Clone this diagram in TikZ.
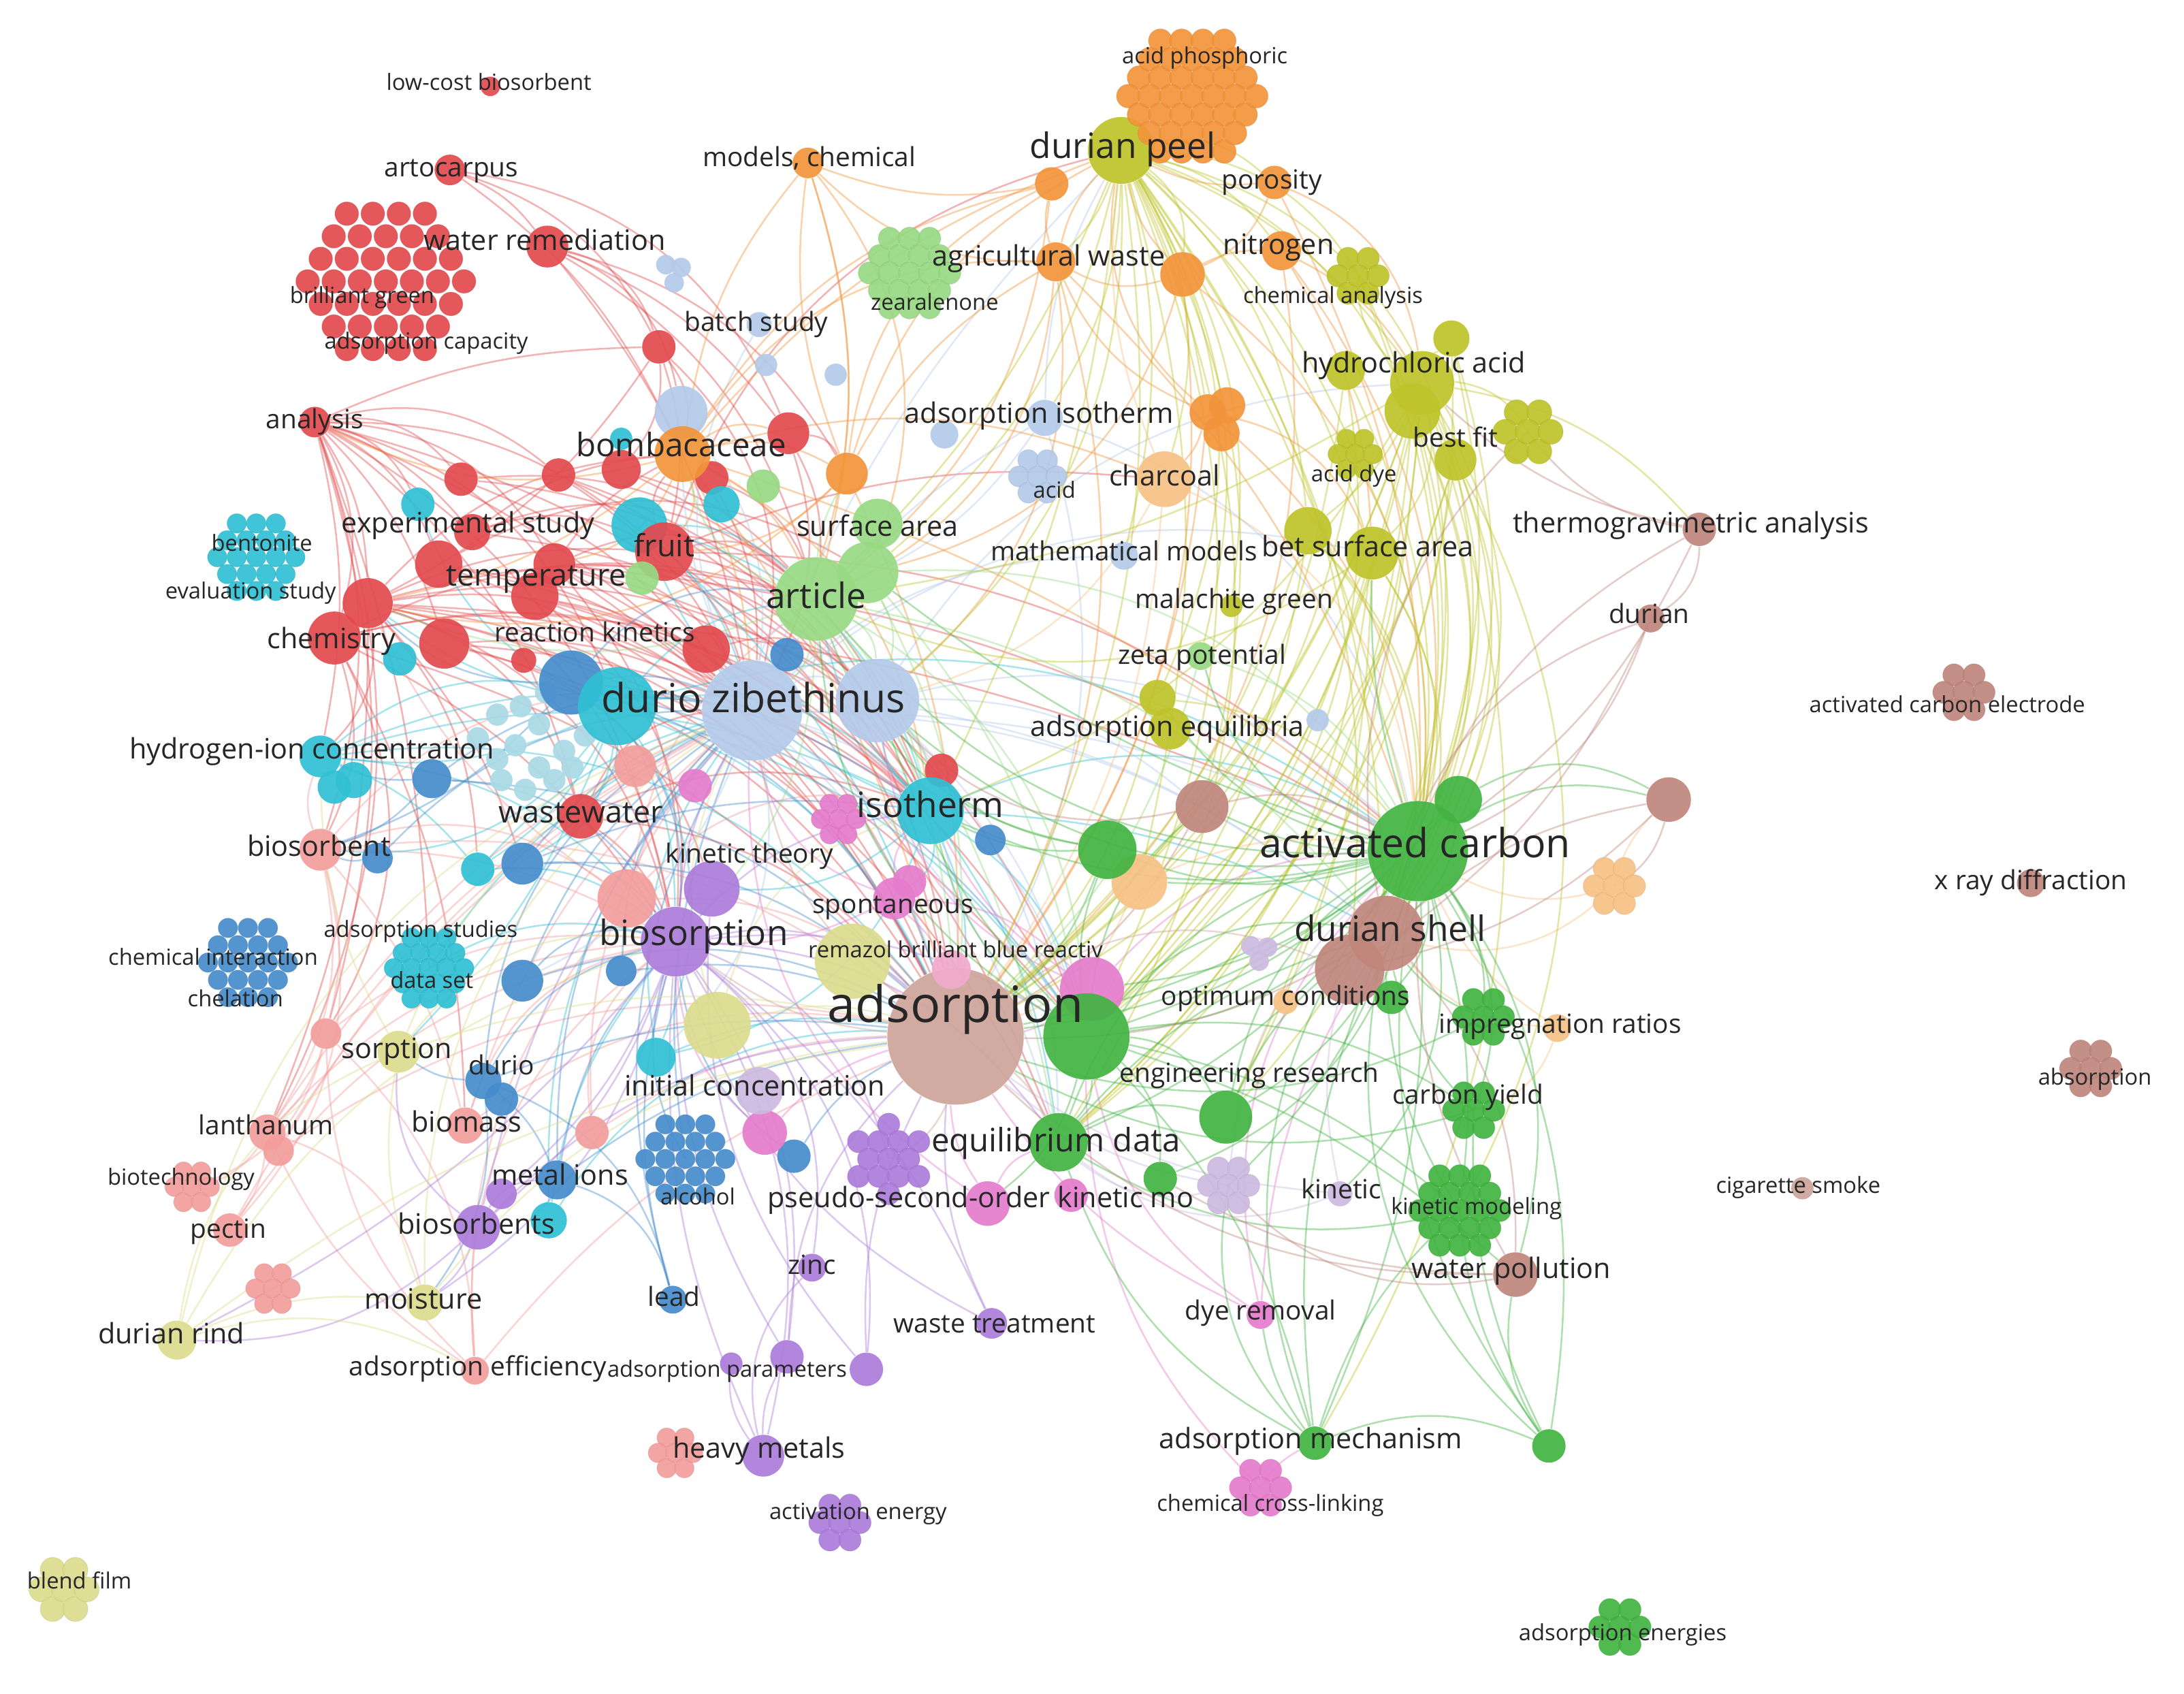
\documentclass[tikz,border=0pt]{standalone}
\usepackage{fontspec}
\setmainfont{Open Sans}
\pgfdeclarelayer{bg}
\pgfsetlayers{bg,main}
\definecolor{cR}{RGB}{226,74,78}
\definecolor{cRl}{RGB}{243,158,156}
\definecolor{cG}{RGB}{66,180,66}
\definecolor{cGl}{RGB}{152,218,132}
\definecolor{cB}{RGB}{70,140,205}
\definecolor{cBl}{RGB}{180,202,234}
\definecolor{cC}{RGB}{48,192,212}
\definecolor{cCl}{RGB}{170,218,230}
\definecolor{cY}{RGB}{190,196,42}
\definecolor{cYl}{RGB}{220,220,142}
\definecolor{cO}{RGB}{242,148,58}
\definecolor{cOl}{RGB}{247,194,134}
\definecolor{cP}{RGB}{172,124,218}
\definecolor{cPl}{RGB}{204,186,224}
\definecolor{cK}{RGB}{230,124,204}
\definecolor{cKl}{RGB}{240,170,205}
\definecolor{cN}{RGB}{192,134,124}
\definecolor{cNl}{RGB}{206,164,154}
\definecolor{txt}{RGB}{38,38,38}
\tikzset{
  kwn/.style={circle, inner sep=0pt, draw=none, fill opacity=0.92},
  e/.style={line width=0.7pt, draw opacity=0.42},
  lab/.style={text=txt, inner sep=0pt, anchor=mid},
  fXL/.style={lab, font=\fontsize{20.5pt}{24pt}\selectfont},
  fLa/.style={lab, font=\fontsize{16.4pt}{19pt}\selectfont},
  fLb/.style={lab, font=\fontsize{14.3pt}{17pt}\selectfont},
  fLc/.style={lab, font=\fontsize{13.2pt}{16pt}\selectfont},
  fMp/.style={lab, font=\fontsize{12.5pt}{15pt}\selectfont},
  fM/.style={lab, font=\fontsize{11.5pt}{14pt}\selectfont},
  fMs/.style={lab, font=\fontsize{10.8pt}{13pt}\selectfont},
  fS/.style={lab, font=\fontsize{9.1pt}{11pt}\selectfont},
}
\newcommand\kwnode[5]{\node[kwn, fill=#5, minimum size={#4*0.04cm}] (#1) at (#2,#3) {};}
\newcommand\kwblob[7][1.8]{%
  \coordinate (#2) at (#3,#4);
  \pgfmathsetmacro\blim{((#5-0.6*#6)/#6)^2}%
  \foreach \ii in {-5,...,5}{\foreach \jj in {-5,...,5}{%
    \pgfmathsetmacro\ux{(\ii+0.5*mod(abs(\jj),2))*#1}%
    \pgfmathsetmacro\uy{\jj*#1*0.866}%
    \pgfmathsetmacro\bok{(\ux*\ux+\uy*\uy <= \blim) ? 1 : 0}%
    \ifdim\bok pt>0.5pt
      \pgfmathsetmacro\cx{#3+\ux*#6}%
      \pgfmathsetmacro\cy{#4+\uy*#6}%
      \filldraw[fill=#7, draw=#7!80!black, draw opacity=0.25, line width=0.3pt, fill opacity=0.92] (\cx,\cy) circle (#6);
    \fi}}}
\newcommand\kwfan[3]{\foreach \tg [count=\kk] in {#3}{%
  \pgfmathsetmacro\bb{8+mod(\kk*7,22)}%
  \draw[e,#1] (#2) to[bend left=\bb] (\tg);}}
\begin{document}
\begin{tikzpicture}[x=0.02cm,y=-0.02cm]
\useasboundingbox (0,0) rectangle (1568,1216);
% ---------- big nodes first
\kwnode{adsb}{686}{744}{49}{cNl}
\kwnode{dz1}{540}{510}{36}{cBl}
\kwnode{dz2}{630}{503}{30}{cBl}
% ---------- red
\kwnode{lcb}{352}{62}{7}{cR}
\kwnode{arto}{323}{122}{11}{cR}
\kwnode{wrem}{393}{177}{15}{cR}
\kwnode{ana}{226}{303}{11}{cR}
\kwblob[2.2]{redb}{277}{202}{64}{8.5}{cR}
\kwnode{r1}{473}{249}{12}{cR}
\kwnode{r2}{566}{311}{15}{cR}
\kwnode{r3}{331}{344}{12}{cR}
\kwnode{r4}{401}{341}{12}{cR}
\kwnode{r5}{446}{337}{14}{cR}
\kwnode{r6}{511}{343}{12}{cR}
% ---------- cyan
\kwblob[2.0]{bent}{184}{400}{33}{7}{cC}
\kwnode{c1}{300}{362}{12}{cC}
\kwnode{c2}{459}{377}{20}{cC}
\kwnode{c3}{518}{362}{13}{cC}
\kwnode{c4}{446}{315}{8}{cC}
\kwnode{hic1}{230}{543}{15}{cC}
\kwnode{hic2}{254}{560}{13}{cC}
\kwnode{hic3}{240}{565}{12}{cC}
\kwnode{c8}{287}{473}{12}{cC}
\kwnode{c5}{343}{624}{12}{cC}
\kwblob{adst}{308}{695}{32}{7}{cC}
\kwnode{c6}{471}{759}{14}{cC}
\kwnode{c7}{394}{876}{13}{cC}
% ---------- light cyan
\kwnode{lc1}{357}{513}{8}{cCl}
\kwnode{lc2}{374}{507}{8}{cCl}
\kwnode{lc3}{387}{520}{8}{cCl}
\kwnode{lc4}{370}{535}{8}{cCl}
\kwnode{lc5}{387}{551}{8}{cCl}
\kwnode{lc6}{405}{539}{8}{cCl}
\kwnode{lc7}{360}{560}{8}{cCl}
\kwnode{lc8}{377}{567}{8}{cCl}
\kwnode{lc9}{398}{560}{8}{cCl}
\kwnode{lc10}{411}{551}{8}{cCl}
\kwnode{lc11}{357}{545}{8}{cCl}
\kwnode{lc12}{392}{497}{8}{cCl}
\kwnode{lc13}{343}{530}{8}{cCl}
\kwnode{lc14}{420}{528}{8}{cCl}
% ---------- red (cont.)
\kwnode{r7}{339}{382}{13}{cR}
\kwnode{r8}{315}{405}{17}{cR}
\kwnode{temp}{398}{405}{15}{cR}
\kwnode{r9}{384}{428}{17}{cR}
\kwnode{fruit}{477}{396}{21}{cR}
\kwnode{chem1}{264}{433}{18}{cR}
\kwnode{chem2}{240}{458}{19}{cR}
\kwnode{r10}{319}{462}{18}{cR}
\kwnode{r11}{507}{466}{17}{cR}
\kwnode{ww}{417}{586}{16}{cR}
\kwnode{r12}{676}{553}{12}{cR}
\kwnode{r13}{376}{474}{9}{cR}
% ---------- salmon
\kwnode{bsorb}{230}{610}{15}{cRl}
\kwnode{s1}{234}{742}{11}{cRl}
\kwnode{lanth}{192}{813}{13}{cRl}
\kwnode{lanth2}{200}{826}{11}{cRl}
\kwnode{pectin}{165}{883}{12}{cRl}
\kwnode{adseff}{341}{984}{10}{cRl}
\kwnode{sbig}{450}{645}{21}{cRl}
\kwnode{s3}{456}{550}{15}{cRl}
\kwnode{biomass}{334}{808}{13}{cRl}
\kwnode{s4}{425}{813}{12}{cRl}
\kwblob{biotech}{138}{852}{18}{7}{cRl}
\kwblob{sbl}{196}{925}{20}{7}{cRl}
\kwblob{hmb}{485}{1043}{22}{7}{cRl}
% ---------- blue
\kwblob[2.05]{chint}{178}{691}{38}{7}{cB}
\kwnode{b1}{310}{559}{14}{cB}
\kwnode{b2}{271}{616}{11}{cB}
\kwnode{b3}{375}{620}{15}{cB}
\kwnode{b4}{375}{704}{15}{cB}
\kwnode{b5}{446}{697}{11}{cB}
\kwnode{durio1}{347}{776}{13}{cB}
\kwnode{durio2}{360}{789}{12}{cB}
\kwblob[2.05]{alc}{492}{832}{40}{7}{cB}
\kwnode{mi}{400}{847}{14}{cB}
\kwnode{lead}{483}{933}{10}{cB}
\kwnode{b6}{565}{470}{12}{cB}
\kwnode{b7}{711}{603}{11}{cB}
\kwnode{b8}{570}{830}{12}{cB}
\kwnode{dzb}{410}{490}{23}{cB}
\kwnode{dzc}{443}{507}{28}{cC}
\kwnode{iso}{668}{582}{24}{cC}
% ---------- light blue
\kwnode{lb1}{489}{296}{19}{cBl}
\kwnode{lb2a}{478}{190}{7}{cBl}
\kwnode{lb2b}{489}{192}{7}{cBl}
\kwnode{lb2c}{484}{203}{7}{cBl}
\kwnode{lb3}{545}{233}{9}{cBl}
\kwnode{lb4}{550}{262}{8}{cBl}
\kwnode{lb5}{600}{269}{8}{cBl}
\kwblob{acidb}{745}{342}{26}{7.5}{cBl}
\kwnode{adiso}{750}{300}{13}{cBl}
\kwnode{lb6}{678}{312}{10}{cBl}
\kwnode{mm}{807}{399}{10}{cBl}
\kwnode{lb7}{946}{517}{8}{cBl}
% ---------- olive
\kwnode{dp}{805}{108}{24}{cY}
\kwblob{chan}{975}{198}{22}{8}{cY}
\kwnode{hcl2}{1042}{243}{13}{cY}
\kwnode{hcl3}{966}{266}{14}{cY}
\kwnode{hcl1}{1021}{275}{23}{cY}
\kwnode{hcl4}{1014}{295}{20}{cY}
\kwnode{bf1}{1045}{330}{15}{cY}
\kwblob{bfb}{1097}{310}{30}{9}{cY}
\kwblob{acdye}{973}{326}{19}{7}{cY}
\kwnode{y1}{939}{381}{17}{cY}
\kwnode{bet}{985}{397}{19}{cY}
\kwnode{mg}{884}{435}{8}{cY}
\kwnode{adeq1}{831}{501}{13}{cY}
\kwnode{adeq2}{840}{523}{15}{cY}
% ---------- pale yellow
\kwnode{sorp}{286}{755}{15}{cYl}
\kwnode{moist}{305}{935}{13}{cYl}
\kwnode{drind}{127}{962}{14}{cYl}
\kwblob{blend}{46}{1141}{26}{9}{cYl}
\kwnode{py1}{515}{736}{24}{cYl}
\kwnode{py2}{612}{690}{27}{cYl}
% ---------- orange
\kwblob{aphos}{856}{69}{53}{8.5}{cO}
\kwnode{mc}{580}{117}{11}{cO}
\kwnode{o1}{755}{132}{12}{cO}
\kwnode{agw}{758}{188}{14}{cO}
\kwnode{o2}{849}{197}{16}{cO}
\kwnode{nitro}{920}{180}{14}{cO}
\kwnode{poros}{915}{131}{12}{cO}
\kwnode{o3a}{867}{296}{13}{cO}
\kwnode{o3b}{881}{291}{13}{cO}
\kwnode{o3c}{877}{311}{13}{cO}
\kwnode{bomb}{490}{326}{20}{cO}
\kwnode{o4}{608}{340}{15}{cO}
% ---------- light orange
\kwnode{charc}{836}{344}{20}{cOl}
\kwnode{lo1}{818}{633}{20}{cOl}
\kwblob{lob}{1159}{636}{24}{8}{cOl}
\kwnode{impr}{1118}{738}{10}{cOl}
\kwnode{optc}{923}{719}{9}{cOl}
% ---------- light green
\kwblob{zear}{653}{196}{35}{8}{cGl}
\kwnode{art3}{630}{376}{18}{cGl}
\kwnode{art2}{623}{411}{22}{cGl}
\kwnode{art1}{586}{430}{30}{cGl}
\kwnode{g1}{548}{349}{12}{cGl}
\kwnode{g2}{461}{415}{12}{cGl}
\kwnode{zeta}{862}{471}{10}{cGl}
% ---------- brown
\kwnode{ds2}{969}{696}{25}{cN}
\kwnode{ds1}{995}{670}{27}{cN}
\kwnode{n1}{863}{579}{19}{cN}
\kwnode{n2}{1198}{574}{16}{cN}
\kwnode{thermo}{1220}{380}{12}{cN}
\kwnode{durian}{1185}{444}{10}{cN}
\kwblob{ace}{1410}{497}{26}{8}{cN}
\kwnode{xrd}{1458}{634}{10}{cN}
\kwblob{absb}{1501}{767}{26}{8}{cN}
\kwnode{cig}{1294}{853}{8}{cNl}
\kwnode{wp}{1088}{915}{16}{cN}
% ---------- pink
\kwblob{pkb}{602}{588}{23}{7}{cK}
\kwnode{spont}{642}{645}{15}{cK}
\kwnode{pk1}{653}{633}{12}{cK}
\kwnode{pk2}{499}{564}{12}{cK}
\kwnode{pk3}{549}{813}{16}{cK}
\kwnode{pk4}{784}{710}{23}{cK}
\kwnode{pk5}{709}{864}{16}{cK}
\kwnode{pk6}{769}{858}{12}{cK}
\kwnode{dyer}{905}{944}{10}{cK}
\kwblob{ccl}{905}{1068}{23}{8}{cK}
\kwnode{pk8}{683}{696}{14}{cKl}
% ---------- green
\kwnode{ac2}{1047}{574}{17}{cG}
\kwnode{ac1}{1018}{611}{36}{cG}
\kwnode{gads}{780}{744}{31}{cG}
\kwnode{g4}{795}{610}{21}{cG}
\kwnode{eqd}{760}{820}{21}{cG}
\kwnode{g5}{880}{802}{19}{cG}
\kwnode{g6}{833}{846}{12}{cG}
\kwnode{g8}{999}{716}{12}{cG}
\kwblob{imprb}{1065}{730}{26}{8}{cG}
\kwblob{cyb}{1058}{797}{23}{8}{cG}
\kwblob{kmb}{1048}{869}{34}{8}{cG}
\kwnode{am}{944}{1036}{12}{cG}
\kwnode{g7}{1112}{1038}{12}{cG}
\kwblob{aeb}{1163}{1168}{23}{8}{cG}
% ---------- purple
\kwnode{bios2}{511}{638}{20}{cP}
\kwnode{bios1}{485}{676}{25}{cP}
\kwnode{bsents}{343}{881}{16}{cP}
\kwnode{pu1}{360}{857}{11}{cP}
\kwblob{pub}{638}{832}{33}{8}{cP}
\kwnode{zinc}{583}{910}{10}{cP}
\kwnode{wt}{712}{950}{11}{cP}
\kwblob{apb}{525}{979}{18}{8}{cP}
\kwnode{ap2}{565}{974}{12}{cP}
\kwnode{ap3}{622}{983}{12}{cP}
\kwnode{hm}{548}{1045}{15}{cP}
\kwblob{aeng}{603}{1093}{26}{8}{cP}
% ---------- light purple
\kwblob{lpb}{882}{851}{29}{8}{cPl}
\kwnode{kin}{962}{857}{9}{cPl}
\kwnode{lp1a}{898}{679}{7}{cPl}
\kwnode{lp1b}{910}{680}{7}{cPl}
\kwnode{lp1c}{904}{690}{7}{cPl}
\kwnode{lp2}{545}{783}{17}{cPl}
% ================= edges
\begin{pgfonlayer}{bg}
\fill[white] (0,0) rectangle (1568,1216);
\kwfan{cR}{ana}{chem1,chem2,r3,r7,r8,temp,r10,fruit,r4,hic1,ww,dzc,r1,bsorb,c1,dz1,iso,bios1,adst,s1,lanth}
\kwfan{cR}{arto}{wrem,r1,r2,bomb}
\kwfan{cR}{wrem}{r2,o4,r1,dz1,art1,lb1}
\kwfan{cR}{r1}{fruit,bomb,dz1,chem1,r5}
\kwfan{cR}{chem1}{iso,dz1,bios1,art1,bomb,adsb,fruit,dz2,ww,b3,c5,hic1,lanth,gads,eqd,ac1}
\kwfan{cR}{chem2}{adsb,dz1,iso,bios1,bsorb,s1,biomass,art1}
\kwfan{cR}{temp}{iso,dz2,art1,adsb,bios1,dz1,bomb,eqd,gads,ac1}
\kwfan{cR}{fruit}{dz1,dz2,art1,iso,adsb,bomb,charc,ac1,dp}
\kwfan{cR}{r8}{dz1,bios1,art2,iso,adsb}
\kwfan{cR}{r10}{dz1,adsb,bios2,iso}
\kwfan{cR}{r7}{bomb,fruit,art1,dz2}
\kwfan{cR}{r11}{adsb,iso,dz2,gads}
\kwfan{cR}{ww}{bios1,adsb,dz1,s3,iso}
\kwfan{cR}{r2}{art1,dz1,o4}
\kwfan{cR}{r3}{dz1,art1,iso}
\kwfan{cR}{r4}{dz1,iso,adsb}
\kwfan{cR}{r5}{art1,iso}
\kwfan{cR}{r9}{dz1,adsb,bios1,iso}
\kwfan{cR}{r6}{dz1,art1}
\kwfan{cRl}{bsorb}{s1,lanth,dz1,bios1,adsb,pectin,biomass,hic1,sbig}
\kwfan{cRl}{s1}{lanth,adseff,biotech,dz1,bios1}
\kwfan{cRl}{lanth}{pectin,biotech,moist,dz1,bios1}
\kwfan{cRl}{lanth2}{dz1,adsb}
\kwfan{cRl}{pectin}{dz1,bios1}
\kwfan{cRl}{adseff}{lanth,s1,bios1,adsb,sbig}
\kwfan{cRl}{biomass}{dz1,adsb,bios1}
\kwfan{cRl}{s4}{adsb,dz1,bios1}
\kwfan{cRl}{sbig}{dz1,adsb,iso,chem1,art1}
\kwfan{cC}{dzc}{hic1,c1,bsorb,c5,adsb,iso,bios1,art1,c6,chem1,ww,b3,sorp,gads,ac1}
\kwfan{cC}{hic1}{dz1,bios1,adsb,c5,iso,dzc}
\kwfan{cC}{iso}{art1,c2,spont,adsb,bios2,c6,eqd,gads,ac1,ds1,dz2}
\kwfan{cC}{c2}{dz1,art1,iso,adsb}
\kwfan{cC}{c7}{bios1,dz1,adsb}
\kwfan{cC}{c6}{adsb,dz1}
\kwfan{cC}{c5}{dz1,bios1}
\kwfan{cC}{adst}{dz1,bios1}
\kwfan{cB}{b1}{bsorb,dz1,bios1,hic1,adsb}
\kwfan{cB}{b3}{dz1,adsb,bios1,iso}
\kwfan{cB}{b4}{dz1,adsb,bios1}
\kwfan{cB}{durio1}{sorp,bios1,dz1,mi,moist,lead,adsb}
\kwfan{cB}{mi}{bios1,dz1,lead,adsb}
\kwfan{cB}{lead}{bios1,dz1}
\kwfan{cB}{b5}{adsb,dz1}
\kwfan{cB}{b8}{adsb,bios1}
\kwfan{cB}{b2}{bsorb,dz1}
\kwfan{cB}{alc}{dz1,bios1}
\kwfan{cB}{dzb}{dz1,adsb,art1,iso,chem1,bios1,bsorb,gads}
\kwfan{cBl}{dz1}{adsb,art1,dz2,iso,b4,c6,adiso,mm,lb3,lb1,eqd,gads,ac1,ds1,bet,dp}
\kwfan{cBl}{dz2}{adsb,iso,art1,gads,eqd,ac1,ds1,n1,hcl1}
\kwfan{cBl}{lb1}{bomb,dz1}
\kwfan{cBl}{adiso}{art1,adsb,ac1,dp}
\kwfan{cP}{bios1}{bsents,hm,zinc,wt,ap2,ap3,pu1,moist,adsb,dz1,iso,pub,drind,gads,eqd}
\kwfan{cP}{bsents}{moist,drind,mi,dz1,adsb,sorp}
\kwfan{cP}{hm}{ap2,apb,zinc,bios1}
\kwfan{cP}{ap2}{bios1,adsb}
\kwfan{cP}{ap3}{adsb,bios2}
\kwfan{cP}{wt}{adsb,bios1}
\kwfan{cYl}{drind}{moist,adseff,sorp,adsb,bios1,dz1}
\kwfan{cYl}{moist}{sorp,adsb,dz1}
\kwfan{cYl}{sorp}{adsb,dz1,bios1,hic1}
\kwfan{cYl}{py1}{adsb,dz1,iso}
\kwfan{cK}{spont}{adsb,iso,dz1,bios1,pk4}
\kwfan{cK}{pk4}{adsb,ac1,dz2,iso}
\kwfan{cK}{pk5}{adsb,eqd,dz1}
\kwfan{cK}{dyer}{adsb,gads,ac1,ds1}
\kwfan{cK}{pk3}{adsb,bios1}
\kwfan{cK}{ccl}{am,gads}
\kwfan{cPl}{lpb}{adsb,ac1,eqd}
\kwfan{cPl}{kin}{adsb,ac1,eqd}
\kwfan{cO}{bomb}{mc,o1,agw,dp,o4,fruit,chem1,ana,temp,dz1,art1,iso,adsb,charc,r2,ac1}
\kwfan{cO}{o4}{agw,dp,o1,mc,fruit,chem1,adsb}
\kwfan{cO}{agw}{o1,mc,art1,dp,adsb,dz2,ac1}
\kwfan{cO}{o1}{mc,art1}
\kwfan{cO}{o2}{dp,agw,art2,nitro,adsb,ac1}
\kwfan{cO}{nitro}{hcl1,ac1,adsb,bet}
\kwfan{cO}{poros}{dp,o2,hcl1,ac1}
\kwfan{cO}{mc}{art1,dz1,art2}
\kwfan{cO}{o3a}{adsb,ac1,dp,charc,agw,bet}
\kwfan{cOl}{charc}{adsb,dz2,ac1,dp}
\kwfan{cOl}{lo1}{ac1,adsb}
\kwfan{cOl}{lob}{n2,ac1,ds1}
\kwfan{cOl}{impr}{ac1,ds1,cyb}
\kwfan{cY}{dp}{hcl1,hcl4,bf1,bet,y1,chan,acdye,mg,adeq1,agw,nitro,poros,art1,art2,dz2,iso,adsb,gads,ac1,ds1,charc,o3a,adiso,zeta,o2,lo1,n1,eqd,mm,ds2}
\kwfan{cY}{hcl1}{adsb,ac1,ds1,gads,eqd,bet,y1,bf1,bfb,hcl2,thermo,ac2,art1,iso,chan,g5,ds2,am}
\kwfan{cY}{hcl4}{adsb,ac1,ds2,gads,eqd,g5}
\kwfan{cY}{bf1}{ac1,adsb,ds1,gads,eqd,kmb}
\kwfan{cY}{bet}{adsb,ac1,ds1,gads,eqd,art1,g5}
\kwfan{cY}{y1}{adsb,ac1,ds1,gads}
\kwfan{cY}{adeq1}{adsb,ac1}
\kwfan{cY}{acdye}{ac1,adsb}
\kwfan{cY}{chan}{ac1,ds1}
\kwfan{cY}{hcl2}{ac1,ds1,gads}
\kwfan{cY}{hcl3}{ac1,adsb,gads}
\kwfan{cG}{ac1}{adsb,gads,ds2,eqd,g5,g6,am,g7,cyb,kmb,imprb,wp,n1,g4,art1,art2,iso,dz2,bet,ac2,n2,lo1,pk4,g8,kin,lpb,adeq1,zeta}
\kwfan{cG}{gads}{am,eqd,g5,kmb,cyb,ds1,g4,n1,art1,dz2,iso,g6,wp,pk5}
\kwfan{cG}{am}{kmb,g7,ac1,ds1,eqd,lpb,dyer}
\kwfan{cG}{g7}{kmb,ac1,ds1,cyb,wp}
\kwfan{cG}{kmb}{ds1,eqd}
\kwfan{cG}{eqd}{ds1,g5,ac1}
\kwfan{cG}{g5}{ds1,ac1}
\kwfan{cG}{g4}{adsb,dz2,art1,iso}
\kwfan{cG}{ac2}{adsb,ds1,n2,gads}
\kwfan{cG}{cyb}{ds1,adsb}
\kwfan{cG}{imprb}{ds1,adsb}
\kwfan{cGl}{art1}{adsb,dz1,dz2,iso,bios1,gads,eqd,chem1,bomb,o4,ds1}
\kwfan{cGl}{art2}{adsb,dz2,ac1,gads}
\kwfan{cGl}{zeta}{adsb,ac1}
\kwfan{cN}{ds1}{adsb,thermo,durian,n2,wp,bfb}
\kwfan{cN}{thermo}{hcl1,bfb,durian,ac1}
\kwfan{cN}{durian}{ds2,ac1}
\kwfan{cN}{wp}{ac1,adsb,lpb,g6}
\kwfan{cN}{n2}{ds2,lob}
\kwfan{cN}{n1}{adsb,ac1,dz2}
\kwfan{cNl}{adsb}{bios1,dz1,ds2,eqd,pub}
\end{pgfonlayer}
% ================= labels
\node[fS] (Llcb) at (351,60) {low-cost biosorbent};
\node[fMs] (Larto) at (324,122) {artocarpus};
\node[fM] (Lwrem) at (391,175) {water remediation};
\node[fS] (Lbg) at (260,213) {brilliant green};
\node[fS] (Lacap) at (306,246) {adsorption capacity};
\node[fMs] (Lbatch) at (543,233) {batch study};
\node[fMs] (Lmc) at (581,115) {models, chemical};
\node[fLb] (Ldp) at (806,109) {durian peel};
\node[fS] (Laphos) at (865,41) {acid phosphoric};
\node[fMs] (Lporos) at (913,131) {porosity};
\node[fM] (Lagw) at (753,186) {agricultural waste};
\node[fM] (Lnitro) at (918,178) {nitrogen};
\node[fS] (Lzear) at (671,218) {zearalenone};
\node[fS] (Lchan) at (957,213) {chemical analysis};
\node[fM] (Lhcl) at (1015,263) {hydrochloric acid};
\node[fMs] (Lana) at (226,303) {analysis};
\node[fM] (Ladiso) at (746,299) {adsorption isotherm};
\node[fLc] (Lbomb) at (489,323) {bombacaceae};
\node[fMs] (Lbf) at (1045,316) {best fit};
\node[fS] (Lacdye) at (972,341) {acid dye};
\node[fS] (Lacid) at (757,353) {acid};
\node[fM] (Lcharc) at (836,344) {charcoal};
\node[fS] (Lbent) at (188,391) {bentonite};
\node[fM] (Lexps) at (336,378) {experimental study};
\node[fM] (Lsa) at (630,380) {surface area};
\node[fMp] (Lfruit) at (477,395) {fruit};
\node[fM] (Lthermo) at (1214,378) {thermogravimetric analysis};
\node[fMs] (Lmm) at (807,398) {mathematical models};
\node[fM] (Lbet) at (982,395) {bet surface area};
\node[fS] (Levs) at (180,425) {evaluation study};
\node[fMp] (Ltemp) at (385,416) {temperature};
\node[fLb] (Lart) at (586,432) {article};
\node[fMs] (Lmg) at (886,432) {malachite green};
\node[fMs] (Ldurian) at (1184,443) {durian};
\node[fM] (Lchem) at (238,461) {chemistry};
\node[fMs] (Lrk) at (427,456) {reaction kinetics};
\node[fMs] (Lzeta) at (863,472) {zeta potential};
\node[fS] (Lace) at (1398,507) {activated carbon electrode};
\node[fLa] (Ldz) at (541,507) {durio zibethinus};
\node[fM] (Ladeq) at (838,524) {adsorption equilibria};
\node[fM] (Lhic) at (224,540) {hydrogen-ion concentration};
\node[fMp] (Lww) at (417,586) {wastewater};
\node[fLb] (Liso) at (668,582) {isotherm};
\node[fLa] (Lac1) at (1016,611) {activated carbon};
\node[fM] (Lbsorb) at (229,610) {biosorbent};
\node[fMs] (Lkt) at (538,615) {kinetic theory};
\node[fMs] (Lxrd) at (1458,634) {x ray diffraction};
\node[fMs] (Lspont) at (641,651) {spontaneous};
\node[fS] (Ladst) at (302,668) {adsorption studies};
\node[fLb] (Lds) at (998,671) {durian shell};
\node[fLb] (Lbios) at (498,674) {biosorption};
\node[fS] (Lrem) at (686,683) {remazol brilliant blue reactiv};
\node[fS] (Lchint) at (153,688) {chemical interaction};
\node[fS] (Ldset) at (310,705) {data set};
\node[fS] (Lchel) at (169,718) {chelation};
\node[fMs] (Loptc) at (923,717) {optimum conditions};
\node[fXL] (Lads) at (686,729) {adsorption};
\node[fMs] (Limpr) at (1120,737) {impregnation ratios};
\node[fM] (Lsorp) at (285,755) {sorption};
\node[fMs] (Ldurio) at (360,767) {durio};
\node[fMs] (Lengr) at (897,772) {engineering research};
\node[fS] (Labs) at (1504,774) {absorption};
\node[fM] (Linit) at (542,782) {initial concentration};
\node[fMs] (Lcy) at (1054,788) {carbon yield};
\node[fMs] (Llanth) at (191,810) {lanthanum};
\node[fM] (Lbiomass) at (335,808) {biomass};
\node[fLc] (Leqd) at (758,822) {equilibrium data};
\node[fS] (Lbiotech) at (130,846) {biotechnology};
\node[fM] (Lmi) at (402,846) {metal ions};
\node[fS] (Lcig) at (1291,852) {cigarette smoke};
\node[fMs] (Lkin) at (963,856) {kinetic};
\node[fM] (Lpso) at (704,862) {pseudo-second-order kinetic mo};
\node[fS] (Lalc) at (501,860) {alcohol};
\node[fS] (Lkm) at (1060,867) {kinetic modeling};
\node[fMs] (Lpectin) at (164,884) {pectin};
\node[fM] (Lbsents) at (342,881) {biosorbents};
\node[fMs] (Lzinc) at (583,910) {zinc};
\node[fM] (Lwp) at (1085,913) {water pollution};
\node[fM] (Lmoist) at (304,935) {moisture};
\node[fMs] (Llead) at (484,933) {lead};
\node[fMs] (Ldyer) at (905,943) {dye removal};
\node[fMs] (Lwt) at (714,952) {waste treatment};
\node[fM] (Ldrind) at (123,960) {durian rind};
\node[fMs] (Ladeff) at (343,983) {adsorption efficiency};
\node[fS] (Ladpar) at (522,984) {adsorption parameters};
\node[fM] (Lhm) at (545,1042) {heavy metals};
\node[fM] (Lam) at (941,1035) {adsorption mechanism};
\node[fS] (Laeng) at (616,1086) {activation energy};
\node[fS] (Lccl) at (912,1080) {chemical cross-linking};
\node[fS] (Lblend) at (57,1136) {blend film};
\node[fS] (Laeb) at (1165,1173) {adsorption energies};
\end{tikzpicture}
\end{document}
